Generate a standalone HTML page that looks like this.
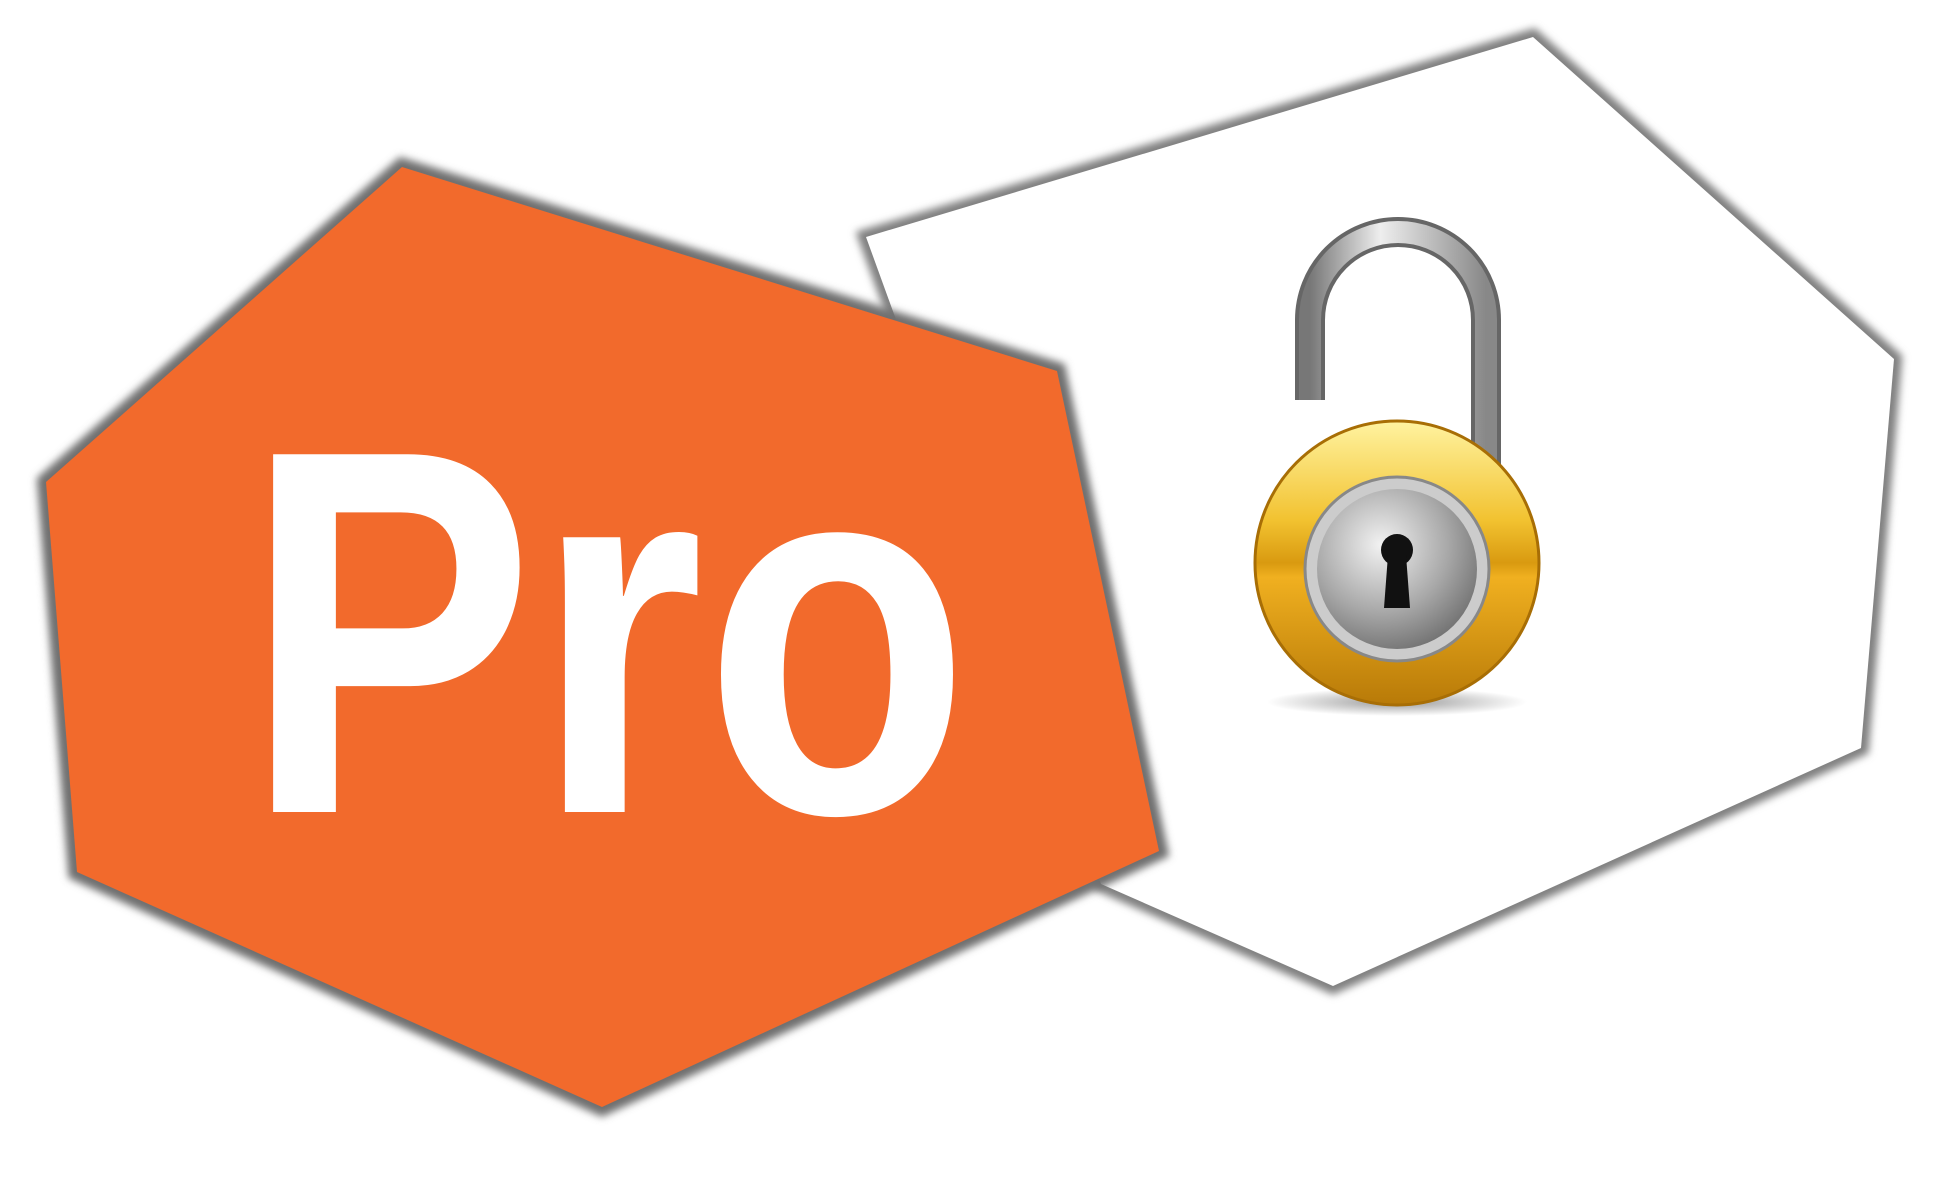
<!DOCTYPE html>
<html><head><meta charset="utf-8"><style>
html,body{margin:0;padding:0;background:#fff;width:1939px;height:1180px;overflow:hidden}
</style></head><body>
<svg width="1939" height="1180" viewBox="0 0 1939 1180" xmlns="http://www.w3.org/2000/svg">
<defs>
<filter id="blur" x="-10%" y="-10%" width="120%" height="120%"><feGaussianBlur stdDeviation="4"/></filter>
<linearGradient id="gold" x1="0" y1="0" x2="0" y2="1">
<stop offset="0" stop-color="#fff3a0"/><stop offset="0.35" stop-color="#f2c230"/><stop offset="0.5" stop-color="#d99a10"/><stop offset="0.55" stop-color="#f0b020"/><stop offset="1" stop-color="#b87a08"/></linearGradient>
<radialGradient id="steel" cx="0.4" cy="0.35" r="0.7">
<stop offset="0" stop-color="#f2f2f2"/><stop offset="0.6" stop-color="#a8a8a8"/><stop offset="1" stop-color="#707070"/></radialGradient>
<linearGradient id="shk" x1="0" y1="0" x2="1" y2="0">
<stop offset="0" stop-color="#777"/><stop offset="0.4" stop-color="#eee"/><stop offset="1" stop-color="#888"/></linearGradient>
<radialGradient id="sh" cx="0.5" cy="0.5" r="0.5"><stop offset="0" stop-color="#555" stop-opacity="0.6"/><stop offset="1" stop-color="#555" stop-opacity="0"/></radialGradient>
</defs>
<polygon points="866,237 1533,37 1894,359 1861,748 1333,986 1101,884" fill="none" stroke="#808080" stroke-width="16" filter="url(#blur)"/>
<polygon points="866,237 1533,37 1894,359 1861,748 1333,986 1101,884" fill="#fff"/>
<polygon points="402,167 1057,371 1159,851 602,1107 77,872 46,482" fill="none" stroke="#707070" stroke-width="18" filter="url(#blur)"/>
<polygon points="402,167 1057,371 1159,851 602,1107 77,872 46,482" fill="#f26a2c"/>
<text x="244" y="812" font-family="Liberation Sans, sans-serif" font-weight="bold" font-size="520" fill="#fff" textLength="726" lengthAdjust="spacingAndGlyphs">Pro</text>
<ellipse cx="1397" cy="702" rx="130" ry="14" fill="url(#sh)"/>
<path d="M1310,400 L1310,320 A88,88 0 0 1 1486,320 L1486,470" fill="none" stroke="#666" stroke-width="30"/>
<path d="M1310,400 L1310,320 A88,88 0 0 1 1486,320 L1486,470" fill="none" stroke="url(#shk)" stroke-width="22"/>
<circle cx="1397" cy="563" r="142" fill="url(#gold)" stroke="#a86e05" stroke-width="3"/>
<circle cx="1397" cy="569" r="92" fill="#ccc" stroke="#888" stroke-width="3"/>
<circle cx="1397" cy="569" r="80" fill="url(#steel)"/>
<circle cx="1397" cy="550" r="16" fill="#111"/>
<polygon points="1388,555 1406,555 1410,608 1384,608" fill="#111"/>
</svg>
</body></html>
